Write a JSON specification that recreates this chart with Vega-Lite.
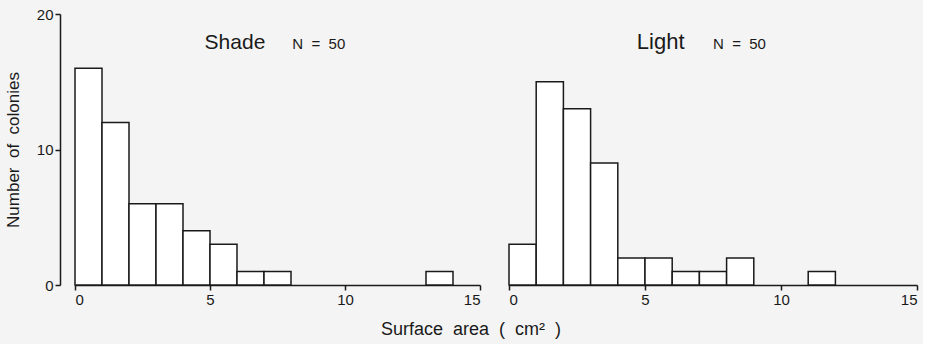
{
  "$schema": "https://vega.github.io/schema/vega-lite/v6.json",
  "background": "#f4f4f4",
  "padding": {"left": 4, "top": 7, "right": 5, "bottom": 5},
  "bounds": "flush",
  "spacing": 29,
  "config": {
    "font": "Liberation Sans",
    "view": {"stroke": null},
    "axis": {
      "grid": false,
      "domainColor": "#1a1a1a",
      "domainWidth": 1.5,
      "tickColor": "#1a1a1a",
      "tickWidth": 1.5,
      "tickSize": 5,
      "labelColor": "#1a1a1a",
      "labelFontSize": 15,
      "labelPadding": 2,
      "titleColor": "#1a1a1a",
      "titleFontWeight": "normal",
      "titleFontSize": 17
    }
  },
  "datasets": {
    "hist": [
      {"panel": "Shade", "bin_start": 0, "bin_end": 1, "count": 16},
      {"panel": "Shade", "bin_start": 1, "bin_end": 2, "count": 12},
      {"panel": "Shade", "bin_start": 2, "bin_end": 3, "count": 6},
      {"panel": "Shade", "bin_start": 3, "bin_end": 4, "count": 6},
      {"panel": "Shade", "bin_start": 4, "bin_end": 5, "count": 4},
      {"panel": "Shade", "bin_start": 5, "bin_end": 6, "count": 3},
      {"panel": "Shade", "bin_start": 6, "bin_end": 7, "count": 1},
      {"panel": "Shade", "bin_start": 7, "bin_end": 8, "count": 1},
      {"panel": "Shade", "bin_start": 13, "bin_end": 14, "count": 1},
      {"panel": "Light", "bin_start": 0, "bin_end": 1, "count": 3},
      {"panel": "Light", "bin_start": 1, "bin_end": 2, "count": 15},
      {"panel": "Light", "bin_start": 2, "bin_end": 3, "count": 13},
      {"panel": "Light", "bin_start": 3, "bin_end": 4, "count": 9},
      {"panel": "Light", "bin_start": 4, "bin_end": 5, "count": 2},
      {"panel": "Light", "bin_start": 5, "bin_end": 6, "count": 2},
      {"panel": "Light", "bin_start": 6, "bin_end": 7, "count": 1},
      {"panel": "Light", "bin_start": 7, "bin_end": 8, "count": 1},
      {"panel": "Light", "bin_start": 8, "bin_end": 9, "count": 2},
      {"panel": "Light", "bin_start": 11, "bin_end": 12, "count": 1}
    ]
  },
  "title": {
    "text": "Surface\u00a0 area\u00a0 (\u00a0 cm²\u00a0 )",
    "orient": "bottom",
    "anchor": "middle",
    "fontSize": 18,
    "fontWeight": "normal",
    "color": "#1a1a1a",
    "offset": 14,
    "dx": 10
  },
  "hconcat": [
    {
      "width": 405,
      "height": 271,
      "layer": [
        {
          "data": {"name": "hist"},
          "transform": [{"filter": "datum.panel === 'Shade'"}],
          "mark": {"type": "bar", "fill": "white", "stroke": "#1a1a1a", "strokeWidth": 1.5},
          "encoding": {
            "x": {"field": "bin_start", "type": "quantitative",
                  "scale": {"domain": [0, 15], "nice": false},
                  "axis": {"values": [0, 5, 10, 15], "title": null}},
            "x2": {"field": "bin_end"},
            "y": {"field": "count", "type": "quantitative",
                  "scale": {"domain": [0, 20], "nice": false},
                  "axis": {"values": [0, 10, 20], "title": "Number\u00a0 of\u00a0 colonies", "offset": 15, "titlePadding": 14}},
            "y2": {"datum": 0}
          }
        },
        {
          "data": {"values": [{"label": "Shade"}]},
          "mark": {"type": "text", "fontSize": 21, "align": "left", "baseline": "alphabetic", "color": "#1a1a1a"},
          "encoding": {
            "text": {"field": "label"},
            "x": {"datum": 4.8, "type": "quantitative"},
            "y": {"datum": 17.4, "type": "quantitative"}
          }
        },
        {
          "data": {"values": [{"label": "N\u00a0 =\u00a0 50"}]},
          "mark": {"type": "text", "fontSize": 15, "align": "left", "baseline": "alphabetic", "color": "#1a1a1a"},
          "encoding": {
            "text": {"field": "label"},
            "x": {"datum": 8.05, "type": "quantitative"},
            "y": {"datum": 17.45, "type": "quantitative"}
          }
        }
      ]
    },
    {
      "width": 408,
      "height": 271,
      "layer": [
        {
          "data": {"name": "hist"},
          "transform": [{"filter": "datum.panel === 'Light'"}],
          "mark": {"type": "bar", "fill": "white", "stroke": "#1a1a1a", "strokeWidth": 1.5},
          "encoding": {
            "x": {"field": "bin_start", "type": "quantitative",
                  "scale": {"domain": [0, 15], "nice": false},
                  "axis": {"values": [0, 5, 10, 15], "title": null}},
            "x2": {"field": "bin_end"},
            "y": {"field": "count", "type": "quantitative",
                  "scale": {"domain": [0, 20], "nice": false},
                  "axis": null},
            "y2": {"datum": 0}
          }
        },
        {
          "data": {"values": [{"label": "Light"}]},
          "mark": {"type": "text", "fontSize": 22, "align": "left", "baseline": "alphabetic", "color": "#1a1a1a"},
          "encoding": {
            "text": {"field": "label"},
            "x": {"datum": 4.7, "type": "quantitative"},
            "y": {"datum": 17.4, "type": "quantitative"}
          }
        },
        {
          "data": {"values": [{"label": "N\u00a0 =\u00a0 50"}]},
          "mark": {"type": "text", "fontSize": 15, "align": "left", "baseline": "alphabetic", "color": "#1a1a1a"},
          "encoding": {
            "text": {"field": "label"},
            "x": {"datum": 7.5, "type": "quantitative"},
            "y": {"datum": 17.45, "type": "quantitative"}
          }
        }
      ]
    }
  ]
}
